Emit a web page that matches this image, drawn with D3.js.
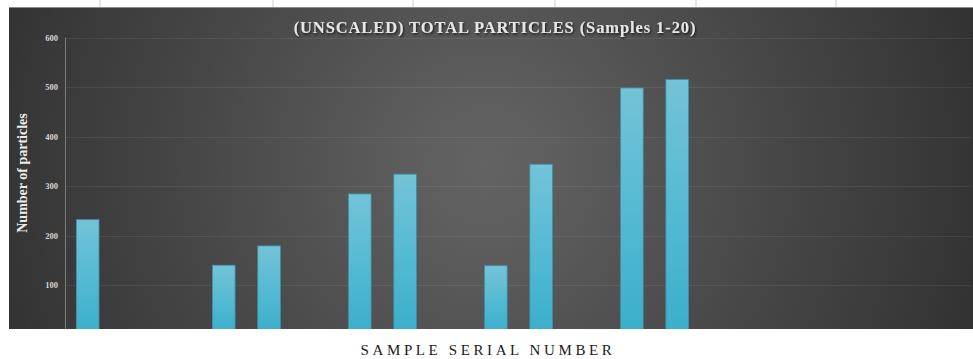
<!DOCTYPE html>
<html>
<head>
<meta charset="utf-8">
<script src="https://cdn.jsdelivr.net/npm/d3@7"></script>
<style>
  html, body { margin: 0; padding: 0; background: #ffffff; }
  svg { display: block; }
</style>
</head>
<body>
<svg id="chart" width="973" height="359"></svg>
<script>
// ---- data ----
const samples = d3.range(1, 21).map(String);
const particles = [232, 0, 0, 140, 179, 0, 284, 324, 0, 139, 344, 0, 498, 515, 0, 0, 0, 0, 0, 0];
const yTicks = [100, 200, 300, 400, 500, 600];
const titleText = "(UNSCALED) TOTAL PARTICLES (Samples 1-20)";
const yLabel = "Number of particles";
const xLabel = "SAMPLE SERIAL NUMBER";
const topRuleX = [100, 273, 413, 555, 696, 836];

const W = 973, H = 359;
const panel = { x: 9, y: 7, w: W - 9, h: 322 };
const plot = { left: 65, right: 972, top: 37.5, zero: 334.5 };

const svg = d3.select("#chart");
const defs = svg.append("defs");

const bg = defs.append("radialGradient").attr("id", "bg")
  .attr("gradientUnits", "userSpaceOnUse")
  .attr("cx", 485).attr("cy", 165).attr("r", 520);
[[0, "#636363"], [0.15, "#5d5d5d"], [0.35, "#525252"], [0.6, "#454545"], [0.85, "#393939"], [1, "#313131"]]
  .forEach(([o, c]) => bg.append("stop").attr("offset", o).attr("stop-color", c));

const barGrad = defs.append("linearGradient").attr("id", "bar")
  .attr("x1", 0).attr("y1", 0).attr("x2", 0).attr("y2", 1);
[[0, "#74c3d7"], [0.5, "#55bad3"], [1, "#3aaecb"]]
  .forEach(([o, c]) => barGrad.append("stop").attr("offset", o).attr("stop-color", c));

const shadow = defs.append("filter").attr("id", "shadow")
  .attr("x", "-10%").attr("y", "-50%").attr("width", "120%").attr("height", "200%");
shadow.append("feDropShadow").attr("dx", 1).attr("dy", 1.5).attr("stdDeviation", 1)
  .attr("flood-color", "#000").attr("flood-opacity", 0.7);

defs.append("clipPath").attr("id", "clip").append("rect")
  .attr("x", panel.x).attr("y", panel.y).attr("width", panel.w).attr("height", panel.h);

// top white strip rules
svg.append("g").selectAll("line").data(topRuleX).join("line")
  .attr("x1", d => d).attr("x2", d => d).attr("y1", 0).attr("y2", panel.y)
  .attr("stroke", "#cfcfcf").attr("stroke-width", 1);

// panel
svg.append("rect").attr("x", panel.x).attr("y", panel.y)
  .attr("width", panel.w).attr("height", panel.h).attr("fill", "url(#bg)");
svg.append("line").attr("x1", panel.x).attr("x2", W).attr("y1", panel.y + 0.5).attr("y2", panel.y + 0.5)
  .attr("stroke", "#8a8a8a").attr("stroke-width", 1);

const x = d3.scaleBand().domain(samples).range([plot.left, plot.right])
  .paddingInner(0.5).paddingOuter(0.25);
const y = d3.scaleLinear().domain([0, 600]).range([plot.zero, plot.top]);

const g = svg.append("g").attr("clip-path", "url(#clip)");

// gridlines
g.append("g").selectAll("line").data(yTicks).join("line")
  .attr("x1", plot.left).attr("x2", plot.right - 1)
  .attr("y1", d => Math.round(y(d)) + 0.5).attr("y2", d => Math.round(y(d)) + 0.5)
  .attr("stroke", "#ffffff").attr("stroke-opacity", 0.07).attr("stroke-width", 1.2);

// bars
g.append("g").selectAll("rect").data(samples.map((s, i) => ({ s, v: particles[i] })).filter(d => d.v > 0))
  .join("rect")
  .attr("x", d => x(d.s))
  .attr("y", d => y(d.v))
  .attr("width", x.bandwidth())
  .attr("height", d => y(0) - y(d.v))
  .attr("fill", "url(#bar)")
  .attr("stroke", "#3e8fa6").attr("stroke-width", 0.8);

// y axis
const yAxis = svg.append("g").attr("transform", `translate(${plot.left},0)`)
  .call(d3.axisLeft(y).tickValues(yTicks).tickSize(0).tickPadding(7));
yAxis.select(".domain").remove();
yAxis.selectAll("text")
  .attr("fill", "#d6d6d6")
  .style("font-family", "'Liberation Serif', 'DejaVu Serif', serif")
  .style("font-weight", "bold")
  .style("font-size", "8.5px");
svg.append("line").attr("x1", plot.left + 0.5).attr("x2", plot.left + 0.5)
  .attr("y1", plot.top).attr("y2", panel.y + panel.h)
  .attr("stroke", "#7a7a7a").attr("stroke-width", 1);

// title
svg.append("text").attr("x", 495).attr("y", 33).attr("text-anchor", "middle")
  .attr("fill", "#e6e6e6").attr("filter", "url(#shadow)")
  .style("font-family", "'Liberation Serif', 'DejaVu Serif', serif")
  .style("font-weight", "bold").style("font-size", "16.5px")
  .style("letter-spacing", "0.9px")
  .text(titleText);

// y label
svg.append("text")
  .attr("transform", "translate(27,173) rotate(-90)")
  .attr("text-anchor", "middle")
  .attr("fill", "#ececec")
  .style("font-family", "'Liberation Serif', 'DejaVu Serif', serif")
  .style("font-weight", "bold").style("font-size", "14px")
  .text(yLabel);

// x label
svg.append("text").attr("x", 488).attr("y", 355).attr("text-anchor", "middle")
  .attr("fill", "#1a1a1a")
  .style("font-family", "'Liberation Serif', 'DejaVu Serif', serif")
  .style("font-size", "15px")
  .style("letter-spacing", "3.6px")
  .text(xLabel);
</script>
</body>
</html>
